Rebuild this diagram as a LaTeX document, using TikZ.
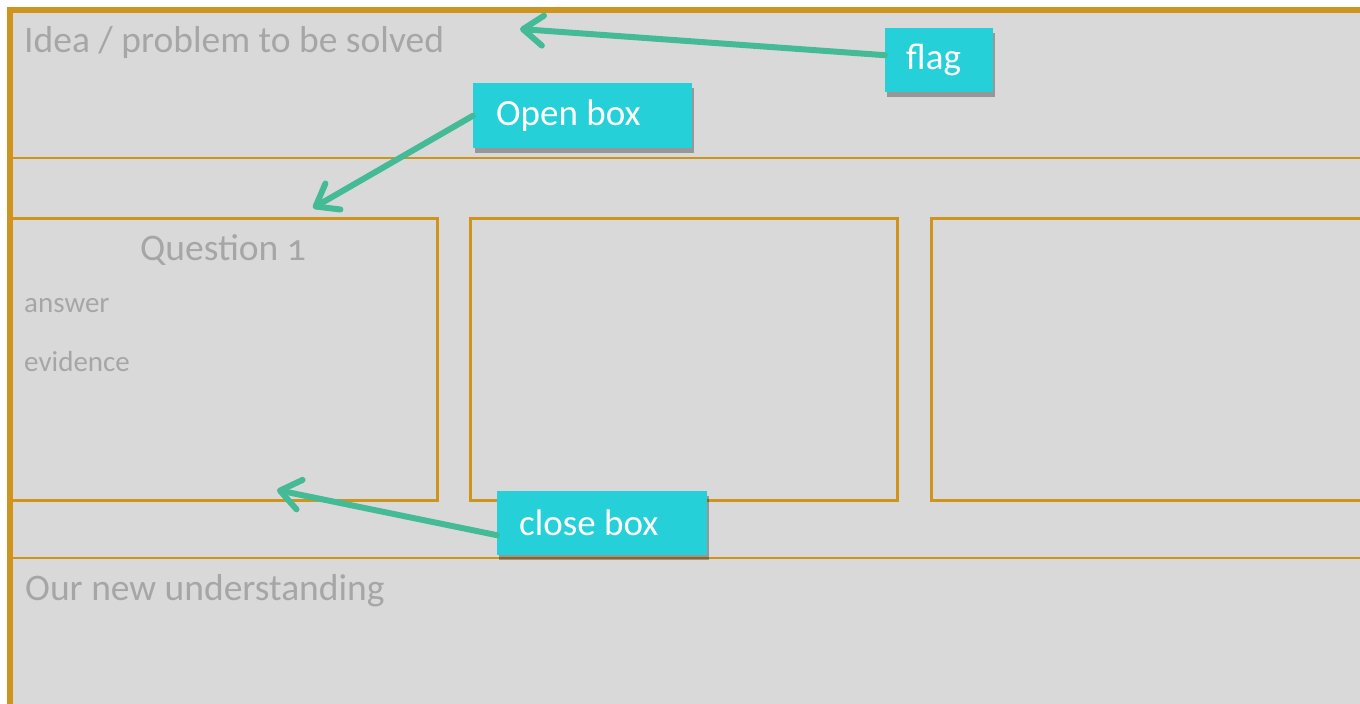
\documentclass[tikz,border=0pt]{standalone}
\usepackage{fontspec}
\setmainfont{Carlito}
\usetikzlibrary{arrows.meta,shadows}
\definecolor{frameor}{RGB}{206,148,30}
\definecolor{panel}{RGB}{217,217,217}
\definecolor{labelgray}{RGB}{166,166,166}
\definecolor{tagcyan}{RGB}{38,208,216}
\definecolor{pointer}{RGB}{68,187,150}
\begin{document}
\begin{tikzpicture}[x=1pt,y=-1pt,
  rule/.style={draw=frameor,line width=2.5pt},
  card/.style={rule,rectangle,inner sep=0pt,anchor=north west},
  caption/.style={text=labelgray,font=\fontsize{37.5}{42}\selectfont,anchor=base west,inner sep=0pt},
  smallcap/.style={caption,font=\fontsize{29}{32}\selectfont},
  tag/.style={fill=tagcyan,text=white,font=\fontsize{37}{42}\selectfont,
    anchor=north west,inner ysep=0pt,align=flush left,
    drop shadow={shadow xshift=1.5pt,shadow yshift=-5pt,fill=black,opacity=0.3}},
  pointerline/.style={draw=pointer,line width=6pt,line cap=round,
    -{Straight Barb[length=20pt,width=30pt,line cap=round,line join=round]}}
]
\useasboundingbox (0,0) rectangle (1360,704);
% sheet and outer frame
\fill[white] (0,0) rectangle (1360,704);
\fill[panel] (7,7) rectangle (1360,704);
\draw[frameor,line width=6pt] (9.5,704) -- (9.5,10) -- (1360,10);
% band separators
\draw[rule] (7,158) -- (1360,158);
\draw[rule] (7,558) -- (1360,558);
% question cards
\node[card,minimum width=426pt,minimum height=282pt] (q1) at (10,217) {};
\node[card,minimum width=427pt,minimum height=282pt] (q2) at (469,217) {};
\node[card,minimum width=440pt,minimum height=282pt] (q3) at (930,217) {};
% texts
\node[caption] (idea) at (24,52) {Idea / problem to be solved};
\node[caption,anchor=base] (qtitle) at (223,260) {Question {\addfontfeatures{Numbers=OldStyle}1}};
\node[smallcap] (ans) at (24,312) {answer};
\node[smallcap] (evid) at (24,371) {evidence};
\node[caption] (under) at (25,600) {Our new understanding};
% tags
\node[tag,text width=66pt,inner xsep=21pt,minimum height=64pt] (flag) at (885,28) {flag};
\node[tag,text width=173pt,inner xsep=23pt,minimum height=65pt] (open) at (473,83) {Open box};
\node[tag,text width=166pt,inner xsep=22pt,minimum height=64pt] (close) at (497,491) {close box};
% pointer tips
\coordinate (flagtip) at (520,29);
\coordinate (opentip) at (313,208);
\coordinate (closetip) at (277,490);
\draw[pointerline] ([yshift=5pt]flag.west) -- (flagtip);
\draw[pointerline] (open.west) -- (opentip);
\draw[pointerline] ([yshift=-12pt]close.west) -- (closetip);
\end{tikzpicture}
\end{document}
